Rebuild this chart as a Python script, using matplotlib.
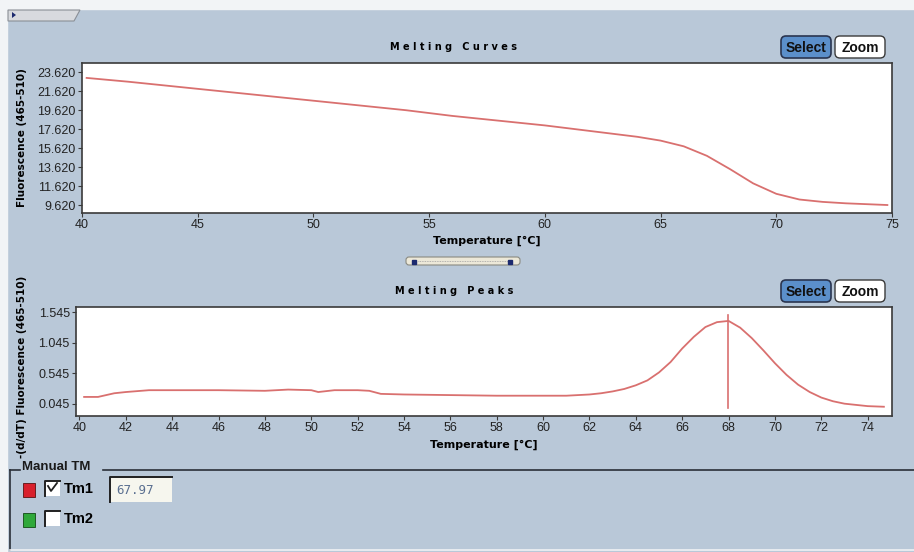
import numpy as np
import matplotlib
matplotlib.use("Agg")
import matplotlib.pyplot as plt
from matplotlib.patches import FancyBboxPatch, Rectangle, Polygon

# melting curve (fluorescence vs temperature)
curveTemp = [40.2, 42, 44, 46, 48, 50, 52, 54, 56, 58, 60, 62, 63, 64, 65, 66, 67, 68, 69, 70, 71, 72, 73, 74, 74.8]
curveFluo = [23.0, 22.6, 22.1, 21.6, 21.1, 20.6, 20.1, 19.6, 19.0, 18.5, 18.0, 17.4, 17.1, 16.8, 16.4,
             15.8, 14.8, 13.4, 11.9, 10.8, 10.2, 9.95, 9.8, 9.7, 9.62]

# melting peak (-dF/dT)
peakTemp = [40.2, 40.8, 41.5, 42, 43, 44, 46, 48, 49, 50, 50.3, 51, 52, 52.5, 53, 54, 56, 58, 60, 61,
            62, 62.5, 63, 63.5, 64, 64.5, 65, 65.5, 66, 66.5, 67, 67.5, 68, 68.5, 69, 69.5, 70, 70.5,
            71, 71.5, 72, 72.5, 73, 73.5, 74, 74.7]
peakVal = [0.16, 0.16, 0.22, 0.24, 0.27, 0.27, 0.27, 0.26, 0.28, 0.27, 0.24, 0.27, 0.27, 0.26, 0.21,
           0.20, 0.19, 0.18, 0.18, 0.18, 0.20, 0.22, 0.25, 0.29, 0.35, 0.43, 0.56, 0.73, 0.95, 1.14,
           1.30, 1.38, 1.40, 1.29, 1.12, 0.92, 0.71, 0.52, 0.36, 0.24, 0.15, 0.09, 0.05, 0.03, 0.01, 0.0]

tm1 = 67.97
topYTicks = [9.62, 11.62, 13.62, 15.62, 17.62, 19.62, 21.62, 23.62]
topXTicks = [40, 45, 50, 55, 60, 65, 70, 75]
botYTicks = [0.045, 0.545, 1.045, 1.545]
botXTicks = list(range(40, 75, 2))

panel = "#b9c8d8"
red = "#d9706f"
frame = "#3a3a3a"
W, H = 914, 552

fig = plt.figure(figsize=(9.14, 5.52), dpi=100, facecolor=panel)
tickFont = ["Liberation Sans", "DejaVu Sans"]


def box(l, t, r, b):
    # pixel box -> figure fraction
    return [l / W, 1 - b / H, (r - l) / W, (b - t) / H]


# ---- background / widgets layer
ui = fig.add_axes([0, 0, 1, 1], zorder=0)
ui.set_xlim(0, W)
ui.set_ylim(H, 0)
ui.axis("off")
ui.add_patch(Rectangle((0, 0), W, 9, color="#f2f4f6"))
ui.add_patch(Rectangle((0, 0), 7, H, color="#f2f4f6"))
ui.add_patch(Polygon([[8, 10], [80, 10], [74, 21], [8, 21]], closed=True, fc="#d8dade", ec="#8a8f96", lw=0.8))
ui.add_patch(Polygon([[12, 12], [12, 18], [16, 15]], closed=True, fc="#1c2a6e"))


def buttons(y):
    ui.add_patch(FancyBboxPatch((781, y), 50, 22, boxstyle="round,pad=0,rounding_size=5",
                                fc="#5b8fca", ec="#2a3550", lw=1.2))
    ui.text(806, y + 11.5, "Select", ha="center", va="center", fontsize=10, fontweight="bold",
            color="#111111", family=tickFont)
    ui.add_patch(FancyBboxPatch((835, y), 50, 22, boxstyle="round,pad=0,rounding_size=5",
                                fc="white", ec="#3a3a3a", lw=1.0))
    ui.text(860, y + 11.5, "Zoom", ha="center", va="center", fontsize=10, fontweight="bold",
            color="#111111", family=tickFont)


buttons(36)
buttons(280)

ui.text(454, 47, "M e l t i n g   C u r v e s", ha="center", va="center", fontsize=7, fontweight="bold")
ui.text(454, 291, "M e l t i n g   P e a k s", ha="center", va="center", fontsize=7, fontweight="bold")

# slider between the plots
ui.add_patch(FancyBboxPatch((406, 257), 114, 8, boxstyle="round,pad=0,rounding_size=3",
                            fc="#ece8d8", ec="#8a8a80", lw=0.8))
ui.plot([418, 508], [261, 261], color="#a0a0a0", lw=0.6, ls=(0, (1, 1)))
ui.plot([414, 510], [262, 262], "s", color="#1c2a6e", ms=2.5)

# Manual TM group box
ui.plot([10, 20], [470, 470], color="#2a2f38", lw=1.2)
ui.plot([103, W], [470, 470], color="#2a2f38", lw=1.2)
ui.plot([10, 10], [470, 550], color="#2a2f38", lw=1.2)
ui.plot([10, W], [550, 550], color="#f0f2f4", lw=1.2)
ui.text(22, 467, "Manual TM", ha="left", va="center", fontsize=9.5, fontweight="bold",
        color="#1a1a1a", family=tickFont)

ui.add_patch(Rectangle((23, 483), 12, 14, fc="#d8202c", ec="#5a1010", lw=0.6))
ui.add_patch(Rectangle((23, 513), 12, 14, fc="#2fa83a", ec="#104a14", lw=0.6))
for yy in (481, 511):
    ui.add_patch(Rectangle((45, yy), 15, 15, fc="white", ec="none"))
    ui.plot([45, 45, 60], [yy + 15, yy, yy], color="#202020", lw=1.4)
ui.plot([48, 51, 57], [486, 491, 483], color="#202020", lw=1.3)
ui.text(64, 489, "Tm1", ha="left", va="center", fontsize=10.5, fontweight="bold", family=tickFont)
ui.text(64, 519, "Tm2", ha="left", va="center", fontsize=10.5, fontweight="bold", family=tickFont)
ui.add_patch(Rectangle((110, 477), 62, 25, fc="#f6f6ee", ec="none"))
ui.plot([110, 110, 172], [502, 477, 477], color="#202020", lw=1.4)
ui.text(116, 490, f"{tm1:.2f}", ha="left", va="center", fontsize=9, color="#5a6f90",
        family="DejaVu Sans Mono")

# ---- Melting Curves
ax1 = fig.add_axes(box(82, 63, 892, 213), zorder=1)
ax1.plot(curveTemp, curveFluo, color=red, lw=1.3)
ax1.set_xlim(40, 75)
ax1.set_ylim(8.78, 24.57)
ax1.set_xticks(topXTicks)
ax1.set_yticks(topYTicks)
ax1.set_yticklabels([f"{v:.3f}" for v in topYTicks])
ax1.set_xlabel("Temperature [°C]", fontsize=8, fontweight="bold", labelpad=3)
ax1.set_ylabel("Fluorescence (465-510)", fontsize=7.5, fontweight="bold", labelpad=3)

# ---- Melting Peaks
ax2 = fig.add_axes(box(76, 307, 892, 416), zorder=1)
ax2.plot(peakTemp, peakVal, color=red, lw=1.3)
ax2.axvline(tm1, ymin=0.07, ymax=0.93, color=red, lw=1.2)
ax2.set_xlim(39.85, 75.05)
ax2.set_ylim(-0.151, 1.627)
ax2.set_xticks(botXTicks)
ax2.set_yticks(botYTicks)
ax2.set_yticklabels([f"{v:.3f}" for v in botYTicks])
ax2.set_xlabel("Temperature [°C]", fontsize=8, fontweight="bold", labelpad=4)
ax2.set_ylabel("-(d/dT) Fluorescence (465-510)", fontsize=7.5, fontweight="bold", labelpad=3)

for ax in (ax1, ax2):
    ax.set_facecolor("white")
    for s in ax.spines.values():
        s.set_color(frame)
        s.set_linewidth(1.2)
    ax.tick_params(direction="out", length=3, width=0.8, color=frame, pad=1.5, labelsize=9,
                   labelcolor="#222222")
    for lab in ax.get_xticklabels() + ax.get_yticklabels():
        lab.set_family(tickFont)

ax1.yaxis.set_label_coords(-0.068, 0.5)
ax2.yaxis.set_label_coords(-0.060, 0.45)

fig.savefig("out.png", dpi=100, facecolor=panel)
